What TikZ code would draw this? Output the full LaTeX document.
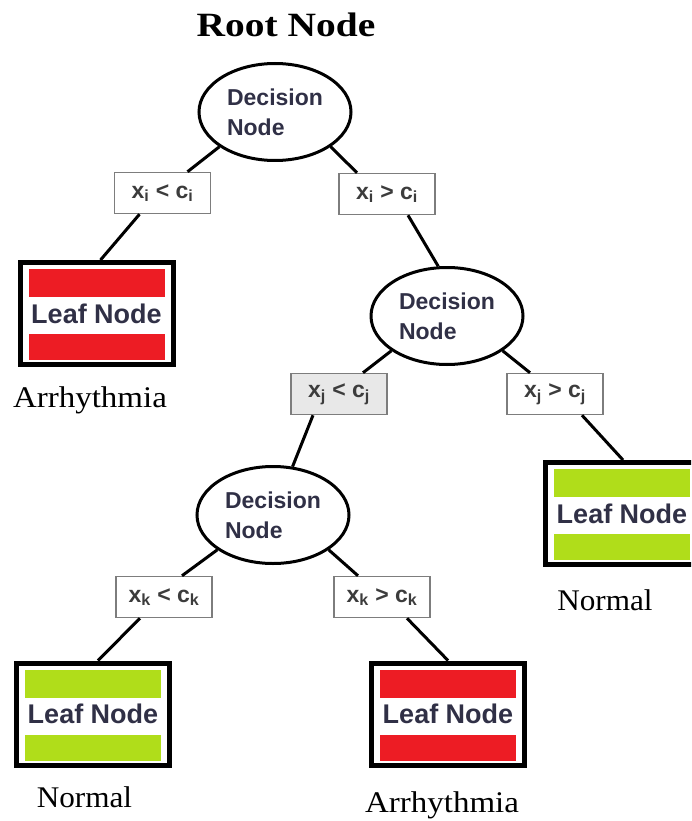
\documentclass[tikz,border=0pt]{standalone}
\usepackage{fontspec}
\usepackage{graphicx}
\usetikzlibrary{shapes.geometric}
\setmainfont{Liberation Serif}
\setsansfont{Liberation Sans}
\definecolor{leafred}{RGB}{237,28,36}
\definecolor{leafgreen}{RGB}{176,221,26}
\definecolor{nodetext}{RGB}{48,48,70}
\definecolor{condtext}{RGB}{60,60,60}
\definecolor{condframe}{RGB}{125,125,125}
\begin{document}
\begin{tikzpicture}[x=1pt,y=-1pt,
  decision/.style={ellipse,draw=black,line width=3pt,fill=white,
    minimum width=152pt,minimum height=97pt,inner sep=0pt,align=left,
    text=nodetext,font=\sffamily\bfseries\fontsize{23}{30}\selectfont},
  cond/.style={rectangle,draw=condframe,line width=1.5pt,fill=white,
    minimum width=96pt,minimum height=41pt,inner sep=0pt,
    text=condtext,font=\sffamily\bfseries\fontsize{23}{26}\selectfont},
  leaf/.style={rectangle,draw=black,line width=5pt,fill=white,
    minimum width=153pt,minimum height=102pt,inner sep=0pt,
    text=nodetext,font=\sffamily\bfseries\fontsize{27}{30}\selectfont,
    path picture={
      \fill[#1] ([xshift=8.5pt,yshift=-6.5pt]path picture bounding box.north west)
        rectangle ([xshift=-8.5pt,yshift=-34.5pt]path picture bounding box.north east);
      \fill[#1] ([xshift=8.5pt,yshift=30.5pt]path picture bounding box.south west)
        rectangle ([xshift=-8.5pt,yshift=4.5pt]path picture bounding box.south east);
    }},
  outcome/.style={anchor=base,inner sep=0pt,font=\fontsize{30}{34}\selectfont},
  edge/.style={draw=black,line width=3pt}]
\useasboundingbox (0,0) rectangle (691,821);
\clip (0,0) rectangle (691,821);

% title
\node[anchor=base,inner sep=0pt,font=\bfseries\fontsize{34}{38}\selectfont]
  (title) at (286,37) {\scalebox{1.16}[1]{Root Node}};

% decision nodes
\node[decision] (d1) at (275,112) {Decision\\Node};
\node[decision] (d2) at (447,316) {Decision\\Node};
\node[decision] (d3) at (273,515) {Decision\\Node};

% split conditions
\node[cond] (ci1) at (162.5,193) {x\textsubscript{i} < c\textsubscript{i}};
\node[cond] (ci2) at (387,194) {x\textsubscript{i} > c\textsubscript{i}};
\node[cond,fill=black!9] (cj1) at (339,394) {x\textsubscript{j} < c\textsubscript{j}};
\node[cond] (cj2) at (555,394) {x\textsubscript{j} > c\textsubscript{j}};
\node[cond] (ck1) at (164,597) {x\textsubscript{k} < c\textsubscript{k}};
\node[cond] (ck2) at (382,597) {x\textsubscript{k} > c\textsubscript{k}};

% leaves
\node[leaf=leafred]   (la) at (96.5,313.5) {Leaf Node};
\node[leaf=leafgreen] (lb) at (622,513.5) {Leaf Node};
\node[leaf=leafgreen] (lc) at (93,714) {Leaf Node};
\node[leaf=leafred]   (ld) at (448,714) {Leaf Node};

% class labels
\node[outcome] (oa) at (90,407) {\scalebox{1.10}[1]{Arrhythmia}};
\node[outcome] (ob) at (605,610) {\scalebox{1.04}[1]{Normal}};
\node[outcome] (oc) at (84.5,807) {\scalebox{1.04}[1]{Normal}};
\node[outcome] (od) at (442,812) {\scalebox{1.10}[1]{Arrhythmia}};

% branches
\draw[edge] (d1.212) -- ([xshift=25pt]ci1.north);
\draw[edge] (d1.328) -- ([xshift=-30pt]ci2.north);
\draw[edge] ([xshift=-23pt]ci1.south) -- ([xshift=4pt]la.north);
\draw[edge] ([xshift=21pt]ci2.south) -- (d2.100);
\draw[edge] (d2.212) -- ([xshift=24pt]cj1.north);
\draw[edge] (d2.328) -- ([xshift=-25pt]cj2.north);
\draw[edge] ([xshift=-26pt]cj1.south) -- (d3.68);
\draw[edge] ([xshift=27pt]cj2.south) -- ([xshift=1pt]lb.north);
\draw[edge] (d3.212) -- ([xshift=18pt]ck1.north);
\draw[edge] (d3.328) -- ([xshift=-24pt]ck2.north);
\draw[edge] ([xshift=-24pt]ck1.south) -- ([xshift=5pt]lc.north);
\draw[edge] ([xshift=25pt]ck2.south) -- (ld.north);
\end{tikzpicture}
\end{document}
